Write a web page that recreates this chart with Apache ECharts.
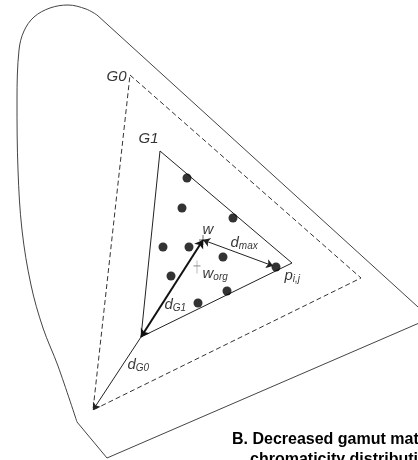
<!DOCTYPE html>
<html><head><meta charset="utf-8">
<script src="https://cdn.jsdelivr.net/npm/echarts@6/dist/echarts.min.js"></script>
<style>html,body{margin:0;padding:0;background:#fff}#c{width:418px;height:460px}</style>
</head><body><div id="c"></div>
<script>
// Chromaticity plane, in plane units (x to the right, y downward)
// Spectral locus outline, open on the right side
const locusRightEdge = [[440, 327], [97, 15]];
const locusCurve = [[97, 15], [86, 9], [68, 5], [50, 8], [34, 17], [24, 31], [19, 50], [17, 100], [18, 170], [22, 230], [31, 285], [43, 328], [58, 366], [77, 422]];
const locusBottom = [[77, 422], [107, 458], [440, 314]];
// Original display gamut G0 and decreased gamut G1
const gamutG0 = [[130, 75], [361, 278], [93, 410], [130, 75]];
const gamutG1 = [[160, 151], [292, 263], [141, 337], [160, 151]];
// Pixel chromaticities; the last one is p(i,j)
const pixels = [[187, 178], [182, 208], [233, 218], [163, 247], [189, 247], [223, 257], [171, 276], [198, 303], [227, 291], [276, 267]];
// Adapted white point w and original white point w_org
const whitePoint = [203, 240];
const whiteOrig = [197, 267];
// Text annotations: rich text and anchor point
const annoText = ['{i|G0}', '{i|G1}', '{i|w}', '{i|d}{s|max}', '{i|w}{s|org}', '{i|p}{s|i,j}', '{i|d}{s|G1}', '{i|d}{s|G0}'];
const annoAt = [[107, 77], [139, 139], [203, 230], [231, 243], [203, 274], [285, 276], [165, 305], [128, 365]];
const captionLines = ['B. Decreased gamut matching to', 'chromaticity distribution'];

const pStar = pixels[pixels.length - 1];
const g1Corner = gamutG1[2];
const g0Corner = gamutG0[2];
// stop an arrow a little short of a dot so the head stays visible
function shorten(a, b, by) {
  const dx = b[0] - a[0], dy = b[1] - a[1], L = Math.hypot(dx, dy);
  return [b[0] - dx / L * by, b[1] - dy / L * by];
}

const lineStyleThin = { color: '#444', width: 1 };
function poly(data, extra) {
  return Object.assign({
    type: 'line', data: data, symbol: 'none', silent: true,
    lineStyle: Object.assign({}, lineStyleThin), z: 2
  }, extra || {});
}

const chart = echarts.init(document.getElementById('c'), null, { renderer: 'canvas' });
chart.setOption({
  animation: false,
  backgroundColor: '#fff',
  grid: { left: 0, right: 0, top: 0, bottom: 0 },
  xAxis: { type: 'value', min: 0, max: 418, show: false },
  yAxis: { type: 'value', min: 0, max: 460, inverse: true, show: false },
  series: [
    poly(locusRightEdge),
    poly(locusCurve, { smooth: 0.35 }),
    poly(locusBottom),
    poly(gamutG0, { lineStyle: { color: '#333', width: 1, type: [5, 3] } }),
    poly(gamutG1, { lineStyle: { color: '#222', width: 1 } }),
    {
      type: 'scatter', data: pixels, symbolSize: 9, silent: true, z: 5,
      itemStyle: { color: '#000' }
    },
    {
      type: 'scatter', data: [whitePoint], silent: true, z: 4,
      symbol: 'path://M4,0V10M0,5H8', symbolSize: [8, 10],
      itemStyle: { color: 'transparent', borderColor: '#333', borderWidth: 1 }
    },
    {
      type: 'scatter', data: [whiteOrig], silent: true, z: 4,
      symbol: 'path://M4,0V12M0,5H8', symbolSize: [7, 13],
      itemStyle: { color: 'transparent', borderColor: '#888', borderWidth: 1 }
    },
    {
      type: 'lines', coordinateSystem: 'cartesian2d', silent: true, z: 6,
      symbol: ['arrow', 'arrow'], symbolSize: 7,
      lineStyle: { color: '#222', width: 1, opacity: 1, curveness: 0 },
      data: [{ coords: [whitePoint, shorten(whitePoint, pStar, 3)] }]
    },
    {
      type: 'lines', coordinateSystem: 'cartesian2d', silent: true, z: 6,
      symbol: ['arrow', 'arrow'], symbolSize: 8,
      lineStyle: { color: '#111', width: 2, opacity: 1, curveness: 0 },
      data: [{ coords: [whitePoint, g1Corner] }]
    },
    {
      type: 'lines', coordinateSystem: 'cartesian2d', silent: true, z: 6,
      symbol: ['none', 'arrow'], symbolSize: 7,
      lineStyle: { color: '#222', width: 1, opacity: 1, curveness: 0 },
      data: [{ coords: [g1Corner, g0Corner] }]
    },
    {
      type: 'scatter', silent: true, z: 10, symbolSize: 1,
      itemStyle: { color: 'transparent' },
      data: annoAt.map((p, k) => ({ value: p, label: { formatter: annoText[k] } })),
      label: {
        show: true, position: [0, 0], align: 'left', verticalAlign: 'middle',
        rich: {
          i: { fontFamily: 'Liberation Sans, Arial', fontStyle: 'italic', fontSize: 15, color: '#000', lineHeight: 18 },
          s: { fontFamily: 'Liberation Sans, Arial', fontStyle: 'italic', fontSize: 10, color: '#000', lineHeight: 18, verticalAlign: 'bottom', padding: [6, 0, 0, 0] }
        }
      }
    }
  ],
  graphic: [
    {
      type: 'text', left: 232, top: 432, silent: true,
      style: { text: captionLines[0], font: 'bold 16px "Liberation Sans", Arial', fill: '#000' }
    },
    {
      type: 'text', left: 250, top: 452, silent: true,
      style: { text: captionLines[1], font: 'bold 16px "Liberation Sans", Arial', fill: '#000' }
    }
  ]
});
</script>
</body></html>
